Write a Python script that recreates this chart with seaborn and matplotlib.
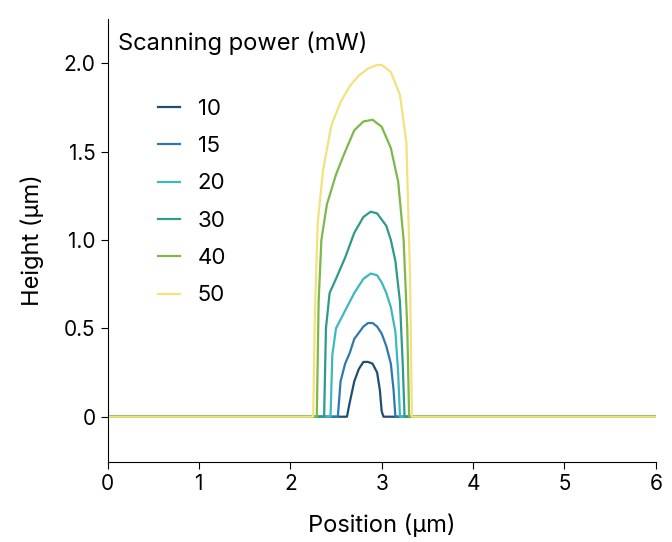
import matplotlib
matplotlib.use("Agg")
import matplotlib.pyplot as plt
import seaborn as sns
import pandas as pd

plt.rcParams["font.family"] = "Inter"

powers = ["10", "15", "20", "30", "40", "50"]
colors = ["#1d4f73", "#2f78ae", "#3fb7bf", "#2f9a8c", "#7cb84a", "#f3e27c"]

x10 = [0, 2.62, 2.65, 2.7, 2.75, 2.8, 2.85, 2.9, 2.95, 2.98, 3.0, 3.02, 6]
y10 = [0, 0, 0.08, 0.2, 0.27, 0.31, 0.31, 0.3, 0.25, 0.15, 0.03, 0, 0]
x15 = [0, 2.52, 2.55, 2.6, 2.65, 2.7, 2.8, 2.85, 2.9, 2.95, 3.0, 3.05, 3.1, 3.13, 3.15, 6]
y15 = [0, 0, 0.2, 0.3, 0.36, 0.44, 0.51, 0.53, 0.53, 0.51, 0.47, 0.4, 0.3, 0.15, 0, 0]
x20 = [0, 2.44, 2.46, 2.5, 2.6, 2.7, 2.8, 2.88, 2.95, 3.0, 3.05, 3.1, 3.15, 3.18, 3.2, 6]
y20 = [0, 0, 0.35, 0.5, 0.6, 0.7, 0.78, 0.81, 0.8, 0.76, 0.7, 0.62, 0.48, 0.25, 0, 0]
x30 = [0, 2.37, 2.39, 2.43, 2.5, 2.6, 2.7, 2.8, 2.88, 2.95, 3.05, 3.1, 3.15, 3.2, 3.23, 3.25, 6]
y30 = [0, 0, 0.5, 0.7, 0.78, 0.9, 1.04, 1.13, 1.16, 1.15, 1.08, 1.0, 0.88, 0.65, 0.3, 0, 0]
x40 = [0, 2.29, 2.31, 2.34, 2.4, 2.5, 2.6, 2.7, 2.8, 2.9, 3.0, 3.1, 3.18, 3.24, 3.28, 3.3, 6]
y40 = [0, 0, 0.65, 1.0, 1.2, 1.37, 1.5, 1.62, 1.67, 1.68, 1.64, 1.52, 1.33, 1.0, 0.5, 0, 0]
x50 = [0, 2.25, 2.27, 2.3, 2.36, 2.45, 2.55, 2.65, 2.75, 2.85, 2.95, 3.0, 3.1, 3.2, 3.27, 3.31, 3.33, 6]
y50 = [0, 0, 0.6, 1.1, 1.4, 1.65, 1.78, 1.87, 1.93, 1.97, 1.99, 1.99, 1.95, 1.82, 1.55, 0.8, 0, 0]

xs = [x10, x15, x20, x30, x40, x50]
ys = [y10, y15, y20, y30, y40, y50]

frames = [pd.DataFrame({"x": x, "y": y, "p": p}) for x, y, p in zip(xs, ys, powers)]
df = pd.concat(frames)

fig, ax = plt.subplots(figsize=(6.72, 5.42), dpi=100)
fig.subplots_adjust(left=0.16, right=0.976, top=0.965, bottom=0.148)
for p, c in zip(powers, colors):
    d = df[df.p == p]
    sns.lineplot(data=d, x="x", y="y", color=c, lw=1.6, ax=ax, label=p, sort=False)

ax.set_xlim(0, 6)
ax.set_ylim(-0.255, 2.25)
ax.set_xticks(range(7))
ax.set_yticks([0, 0.5, 1.0, 1.5, 2.0])
ax.set_yticklabels(["0", "0.5", "1.0", "1.5", "2.0"])
ax.tick_params(labelsize=15, length=5)
ax.set_xlabel("Position (µm)", fontsize=17, labelpad=14)
ax.set_ylabel("Height (µm)", fontsize=17, labelpad=14)
for s in ["top", "right"]:
    ax.spines[s].set_visible(False)
ax.text(0.02, 0.945, "Scanning power (mW)", transform=ax.transAxes, fontsize=17, va="center")
leg = ax.legend(loc="upper left", frameon=False, fontsize=16,
                bbox_to_anchor=(0.075, 0.84), handlelength=1.0,
                labelspacing=0.78, handletextpad=0.8, borderaxespad=0)
fig.savefig("out.png")
